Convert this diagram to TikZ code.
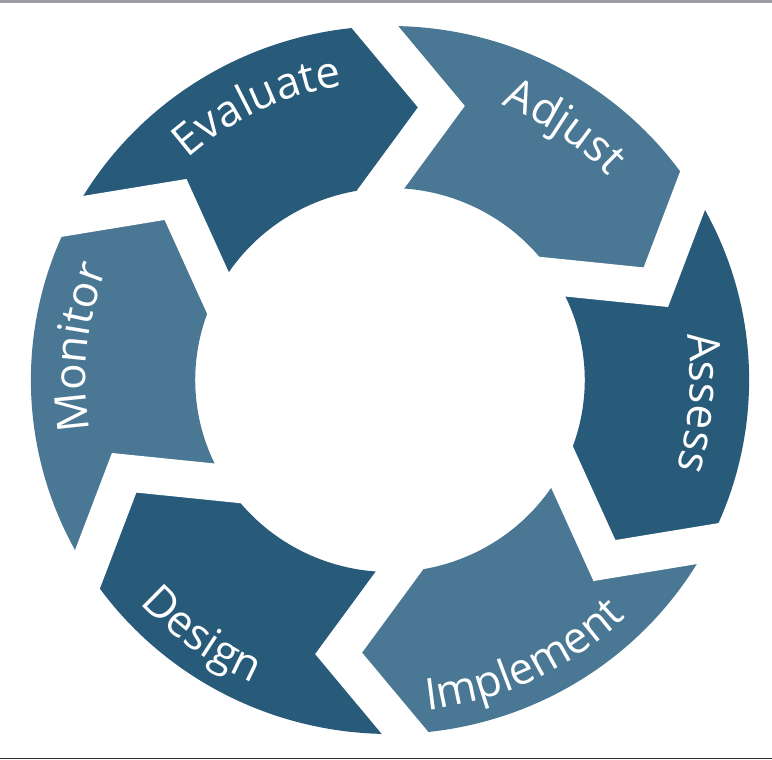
\documentclass[tikz,border=0pt]{standalone}
\usepackage{tikz}
\usepackage{fontspec}
\usetikzlibrary{calc, decorations.text}

\newfontfamily\labelfont{Open Sans}
\newcommand{\segfont}{\labelfont\fontsize{25}{30}\selectfont}

\definecolor{segdark}{RGB}{40,90,122}
\definecolor{seglight}{RGB}{73,119,148}
\definecolor{topbar}{RGB}{155,157,166}
\definecolor{botbar}{RGB}{45,45,45}

\begin{document}
\begin{tikzpicture}[scale=0.02]
  \tikzstyle{darkseg}=[fill=segdark]
  \tikzstyle{lightseg}=[fill=seglight]
  \tikzstyle{gapline}=[draw=white, line width=21pt, miter limit=10]
  \tikzstyle{segtext}=[decorate, decoration={text along path, text align=center, text color=white}]

  \fill[white] (-390,-379) rectangle (382,380); % Background
  \useasboundingbox (-390,-379) rectangle (382,380);

  \begin{scope}[xscale=1.015]
  % Ring segments, clockwise
  \fill[darkseg] (152.5:354) arc[start angle=152.5, end angle=92.5, radius=354]
    -- (79.5:278) -- (92.5:192) arc[start angle=92.5, end angle=152.5, radius=192]
    -- (139.5:278) -- cycle; % Evaluate
  \fill[lightseg] (92.5:354) arc[start angle=92.5, end angle=32.5, radius=354]
    -- (19.5:278) -- (32.5:192) arc[start angle=32.5, end angle=92.5, radius=192]
    -- (79.5:278) -- cycle; % Adjust
  \fill[darkseg] (32.5:354) arc[start angle=32.5, end angle=-27.5, radius=354]
    -- (-40.5:278) -- (-27.5:192) arc[start angle=-27.5, end angle=32.5, radius=192]
    -- (19.5:278) -- cycle; % Assess
  \fill[lightseg] (-27.5:354) arc[start angle=-27.5, end angle=-87.5, radius=354]
    -- (-100.5:278) -- (-87.5:192) arc[start angle=-87.5, end angle=-27.5, radius=192]
    -- (-40.5:278) -- cycle; % Implement
  \fill[darkseg] (-87.5:354) arc[start angle=-87.5, end angle=-147.5, radius=354]
    -- (-160.5:278) -- (-147.5:192) arc[start angle=-147.5, end angle=-87.5, radius=192]
    -- (-100.5:278) -- cycle; % Design
  \fill[lightseg] (212.5:354) arc[start angle=212.5, end angle=152.5, radius=354]
    -- (139.5:278) -- (152.5:192) arc[start angle=152.5, end angle=212.5, radius=192]
    -- (199.5:278) -- cycle; % Monitor

  % White gaps between segments
  \draw[gapline] ($(139.5:278)!1.4!(152.5:354)$) -- (139.5:278) -- ($(139.5:278)!1.5!(152.5:192)$);
  \draw[gapline] ($(79.5:278)!1.4!(92.5:354)$) -- (79.5:278) -- ($(79.5:278)!1.5!(92.5:192)$);
  \draw[gapline] ($(19.5:278)!1.4!(32.5:354)$) -- (19.5:278) -- ($(19.5:278)!1.5!(32.5:192)$);
  \draw[gapline] ($(-40.5:278)!1.4!(-27.5:354)$) -- (-40.5:278) -- ($(-40.5:278)!1.5!(-27.5:192)$);
  \draw[gapline] ($(-100.5:278)!1.4!(-87.5:354)$) -- (-100.5:278) -- ($(-100.5:278)!1.5!(-87.5:192)$);
  \draw[gapline] ($(-160.5:278)!1.4!(-147.5:354)$) -- (-160.5:278) -- ($(-160.5:278)!1.5!(-147.5:192)$);

  % Labels along the ring
  \path[segtext, decoration={text={|\segfont|Evaluate}}] (145.5:298) arc[start angle=145.5, end angle=85.5, radius=298];
  \path[segtext, decoration={text={|\segfont|Adjust}}] (85.7:296) arc[start angle=85.7, end angle=25.7, radius=296];
  \path[segtext, decoration={text={|\segfont|Assess}}] (25.7:296) arc[start angle=25.7, end angle=-34.3, radius=296];
  \path[segtext, decoration={text={|\segfont|Implement}}] (-94.5:332) arc[start angle=-94.5, end angle=-34.5, radius=332];
  \path[segtext, decoration={text={|\segfont|Design}}] (-156:332) arc[start angle=-156, end angle=-96, radius=332];
  \path[segtext, decoration={text={|\segfont|Monitor}}] (204:300) arc[start angle=204, end angle=144, radius=300];
  \end{scope}

  \fill[topbar] (-390,377) rectangle (382,380); % Top edge
  \fill[botbar] (-390,-379) rectangle (382,-377.5); % Bottom edge
\end{tikzpicture}
\end{document}
